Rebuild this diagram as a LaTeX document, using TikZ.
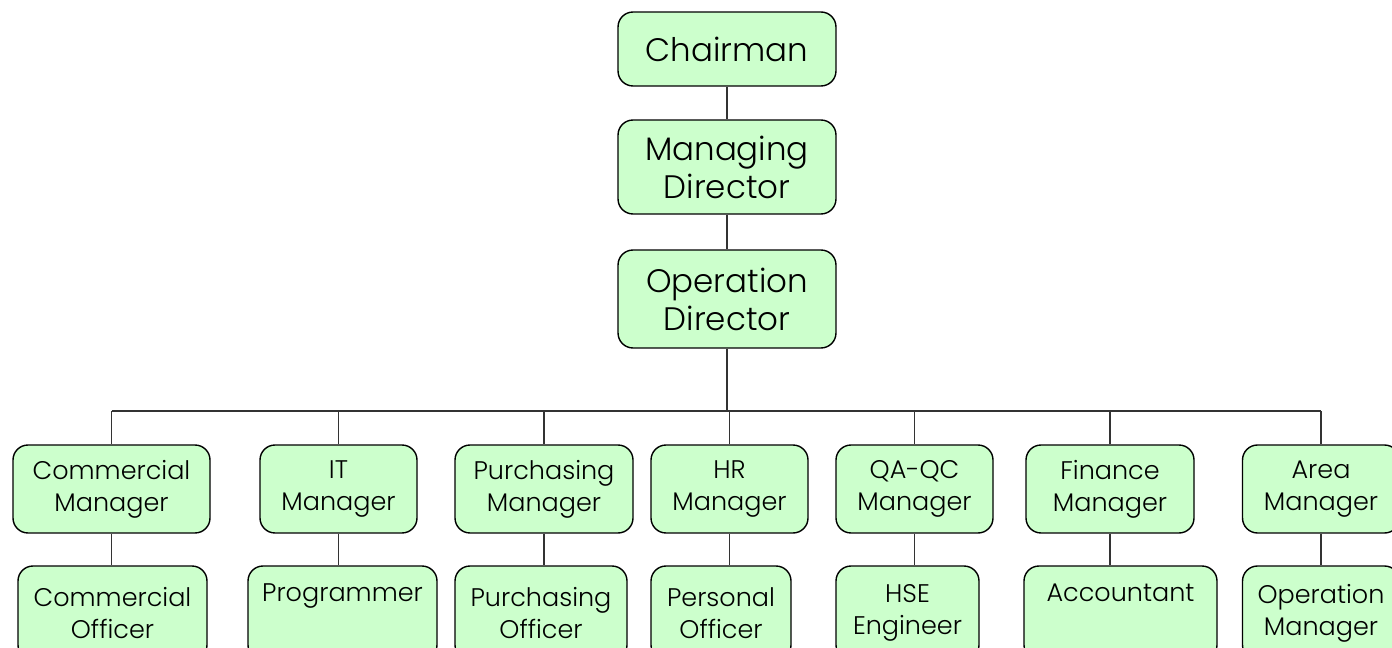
\documentclass[tikz,border=0pt]{standalone}
\usepackage{fontspec}
\setmainfont{Poppins}[UprightFont=* Light]
\definecolor{boxgreen}{HTML}{CCFFCC}
\definecolor{linegray}{HTML}{333333}
\tikzset{
  post/.style={draw=black,fill=boxgreen,rounded corners=0.3cm,line width=0.8pt,
    align=center,inner sep=0pt,font=\fontsize{14.5}{18.2}\selectfont},
  toppost/.style={post,font=\fontsize{18.5}{21.6}\selectfont},
  link/.style={draw=linegray,line width=0.8pt}
}
\begin{document}
\begin{tikzpicture}[x=0.02cm,y=-0.02cm]
  \useasboundingbox (0,0) rectangle (1392,648);
  \clip (0,0) rectangle (1392,648);
  % top of the tree
  \node[toppost,minimum width=4.36cm,minimum height=1.48cm] (chair) at (727,49) {Chairman};
  \node[toppost,minimum width=4.36cm,minimum height=1.88cm] (md) at (727,167) {Managing\\Director};
  \node[toppost,minimum width=4.36cm,minimum height=1.96cm] (od) at (727,299) {Operation\\Director};
  \draw[link] (chair) -- (md) (md) -- (od);
  \coordinate (bus) at (727,411);
  \draw[link] (od) -- (bus);
  % managers and the post under each
  \foreach \n/\x/\w/\t/\sx/\sw/\s in {
      cm/111.5/197/Commercial\\Manager/112.5/189/Commercial\\Officer,
      itm/338.5/157/IT\\Manager/342.5/189/Programmer\\\strut,
      pm/544/178/Purchasing\\Manager/541/172/Purchasing\\Officer,
      hrm/729.5/157/HR\\Manager/721/140/Personal\\Officer,
      qam/914.5/157/QA-QC\\Manager/907.5/143/HSE\\Engineer,
      fm/1110/168/Finance\\Manager/1120.5/193/Accountant\\\strut,
      am/1321/157/Area\\Manager/1321/157/Operation\\Manager} {
    \node[post,minimum width=\w*0.02cm,minimum height=1.76cm] (\n) at (\x,489) {\t};
    \node[post,minimum width=\sw*0.02cm,minimum height=1.88cm] (\n-s) at (\sx,613) {\s};
    \draw[link] (\n.north) -- (\n.north |- bus);
    \draw[link] (\n.south) -- (\n.south |- \n-s.north);
  }
  \draw[link] (cm.north |- bus) -- (am.north |- bus);
\end{tikzpicture}
\end{document}
